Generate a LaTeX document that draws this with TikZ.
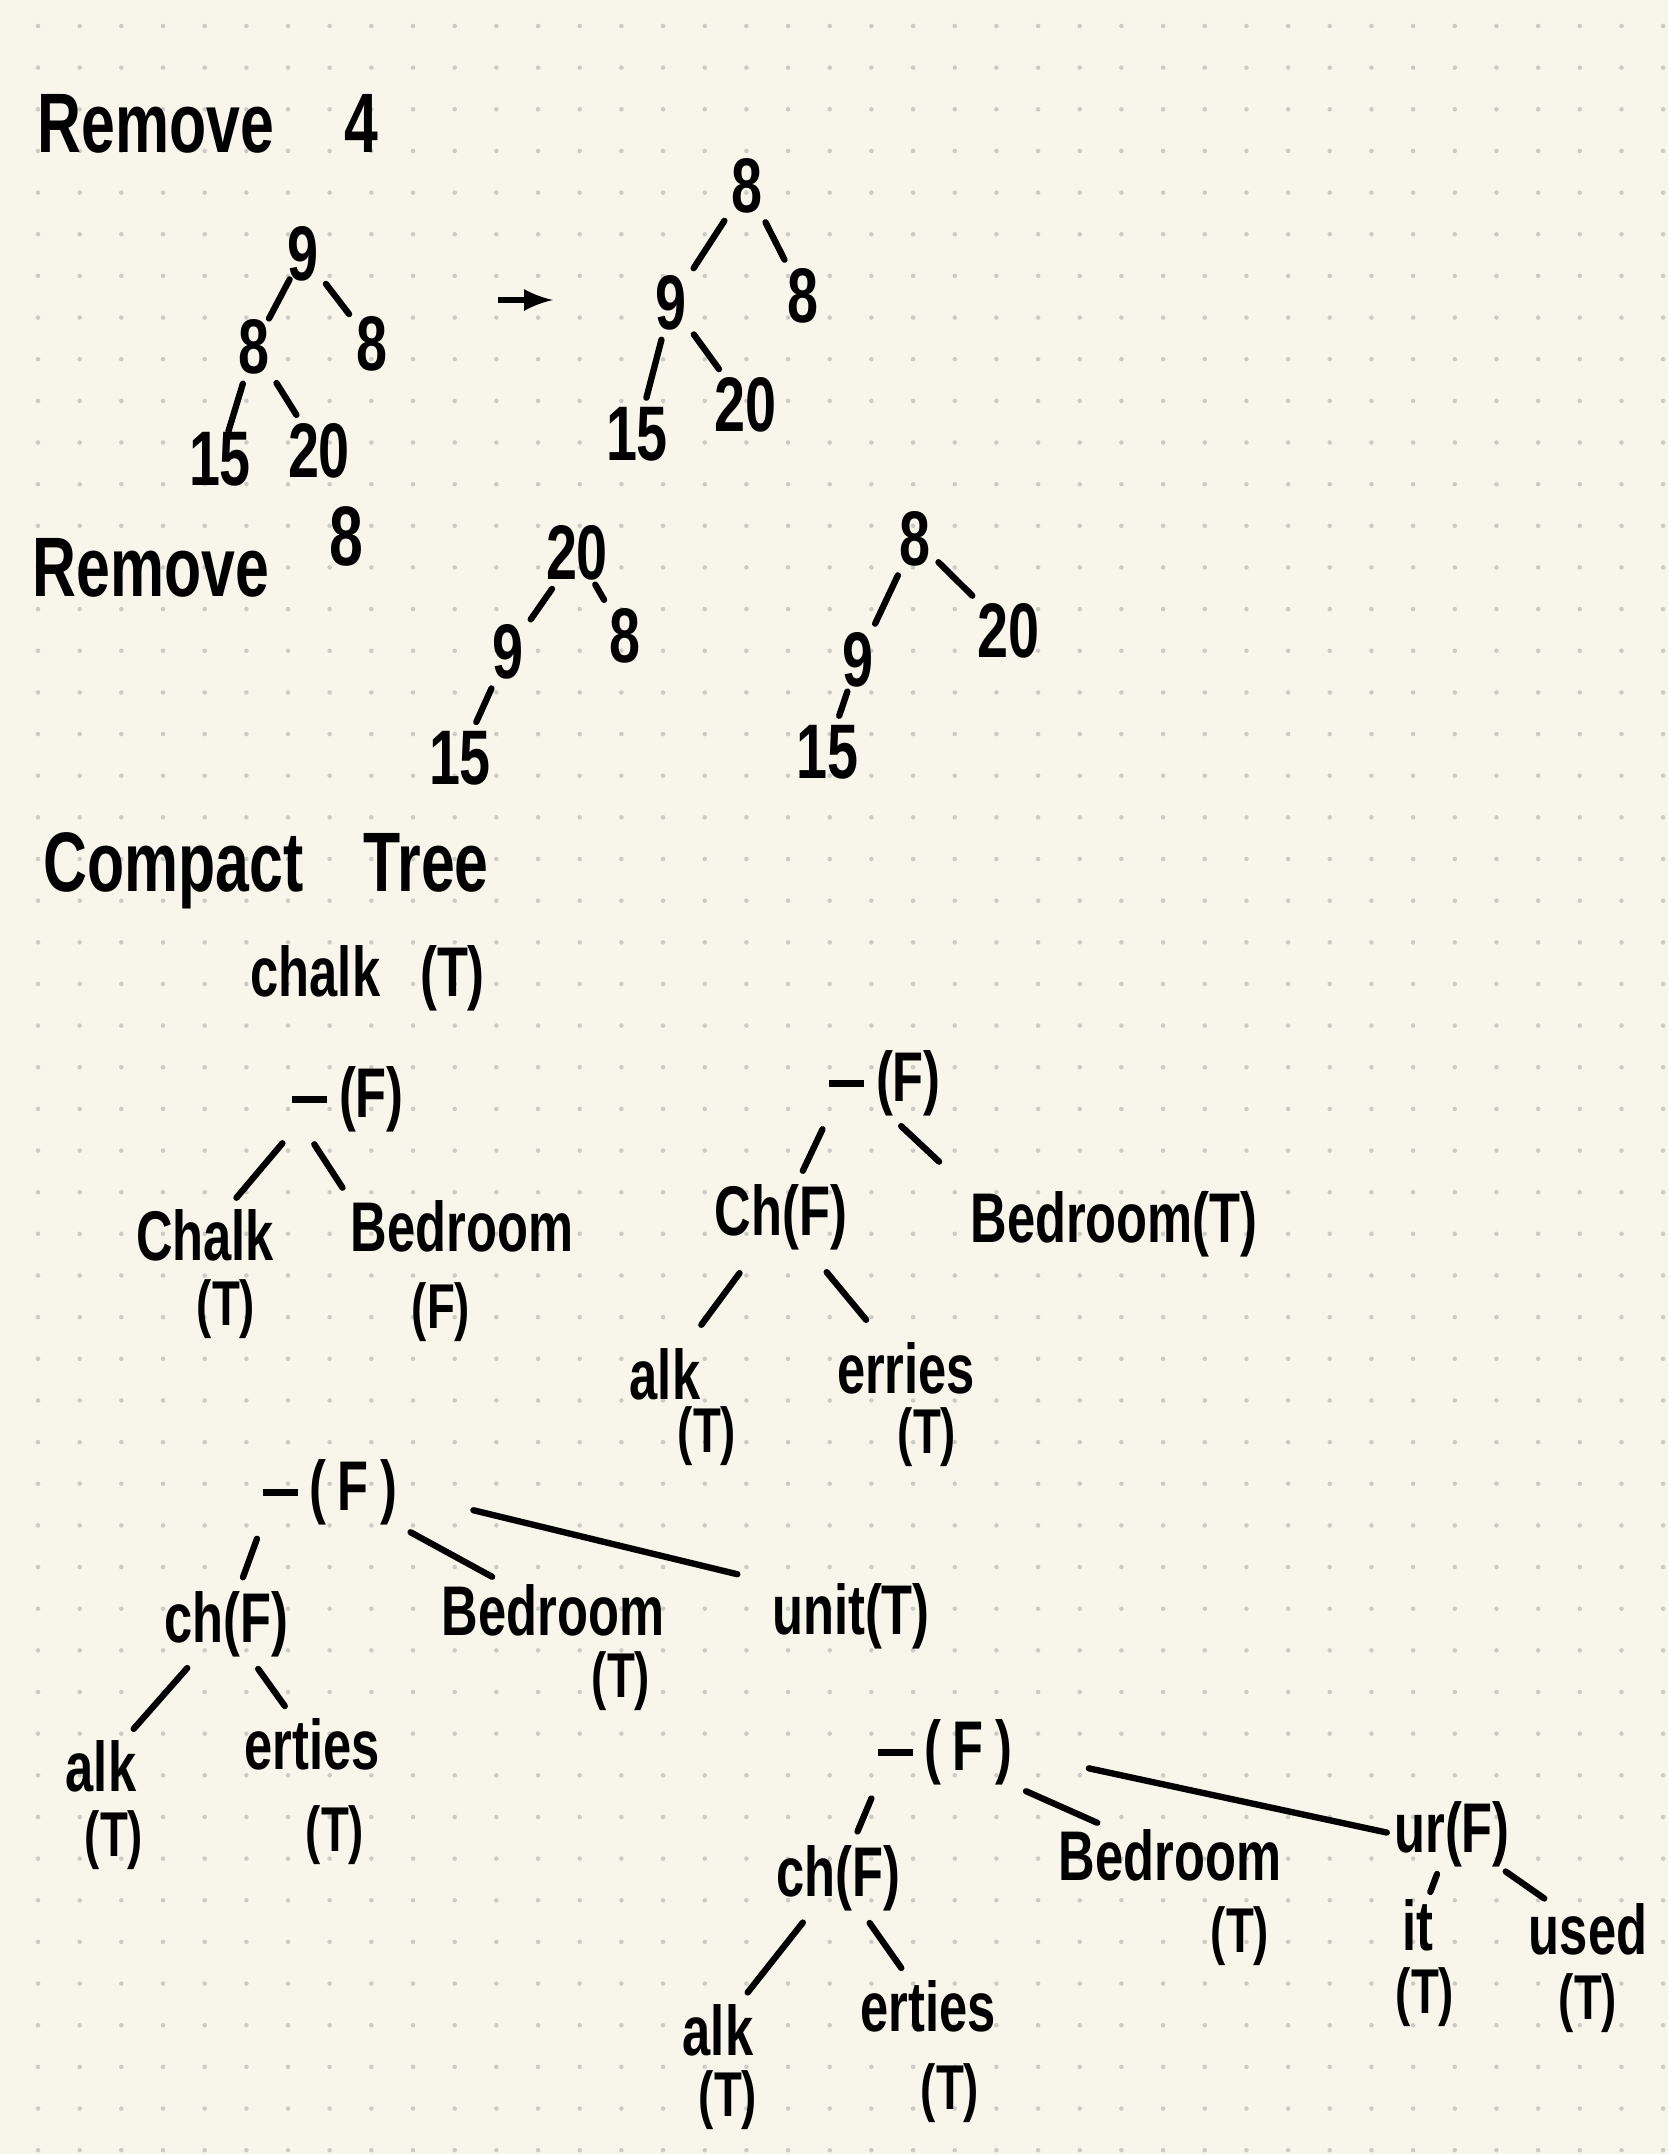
\documentclass[tikz,border=0pt]{standalone}
\usepackage{fontspec}
\newfontfamily\hand[FakeStretch=0.72]{Liberation Sans Bold}
\tikzset{>=latex}
\definecolor{paper}{RGB}{248,246,235}
\definecolor{dotgray}{RGB}{204,204,198}
\newcommand{\blank}{\rule[0.2em]{0.5em}{0.1em}}
\tikzset{
  num/.style={font=\hand\fontsize{22}{24}\selectfont, inner sep=1pt},
  lbl/.style={font=\hand\fontsize{20}{22}\selectfont, inner sep=0pt},
  flag/.style={font=\hand\fontsize{18}{20}\selectfont, inner sep=0pt},
  head/.style={font=\hand\fontsize{24}{26}\selectfont, inner sep=0pt},
  edge/.style={line width=1.8pt, line cap=round, shorten <=4pt, shorten >=4pt},
  numedge/.style={edge, shorten <=1.5pt, shorten >=1.5pt},
}

\begin{document}
\begin{tikzpicture}[x=0.01cm,y=-0.01cm]
\fill[paper] (0,0) rectangle (1668,2154);
\foreach \i in {0,...,39}
  \foreach \j in {0,...,51}
    \fill[dotgray] (38+41.67*\i,26+41.65*\j) circle (0.65pt);

% headings
\node[head, anchor=base west] (rmA) at (37,152) {Remove\hspace{0.7cm}4};
\node[head, anchor=base west] (rmB) at (32,596) {Remove\hspace{0.6cm}\raisebox{0.3cm}{8}};
\node[head, anchor=base west] (cpt) at (43,891) {Compact\hspace{0.6cm}Tree};
\node[lbl, anchor=base west] (chk) at (250,996) {chalk\hspace{0.4cm}(T)};

% remove 4
\node[num] (a9) at (303,254) {9};
\node[num] (a8l) at (254,347) {8};
\node[num] (a8r) at (372,344) {8};
\node[num] (a15) at (220,459) {15};
\node[num] (a20) at (319,451) {20};
\draw[numedge, shorten <=-2pt, shorten >=-1pt] (a9) -- (a8l);
\draw[numedge] (a9) -- (a8r);
\draw[numedge, shorten >=-1pt] (a8l) -- (a15);
\draw[numedge] (a8l) -- (a20);

\coordinate (arrS) at (498,300);
\coordinate (arrE) at (553,300);
\draw[line width=1.8pt, ->] (arrS) -- (arrE);

\node[num] (b8) at (747,186) {8};
\node[num] (b9) at (671,303) {9};
\node[num] (b8r) at (803,296) {8};
\node[num] (b15) at (637,434) {15};
\node[num] (b20) at (745,405) {20};
\draw[numedge] (b8) -- (b9);
\draw[numedge] (b8) -- (b8r);
\draw[numedge] (b9) -- (b15);
\draw[numedge] (b9) -- (b20);

% remove 8
\node[num] (c20) at (577,553) {20};
\node[num] (c9) at (508,652) {9};
\node[num] (c8) at (625,636) {8};
\node[num] (c15) at (460,758) {15};
\draw[numedge] (c20) -- (c9);
\draw[numedge, shorten <=0pt] (c20) -- (c8);
\draw[numedge] (c9) -- (c15);

\node[num] (d8) at (915,539) {8};
\node[num] (d9) at (858,660) {9};
\node[num] (d20) at (1008,631) {20};
\node[num] (d15) at (827,752) {15};
\draw[numedge] (d8) -- (d9);
\draw[numedge] (d8) -- (d20);
\draw[numedge, shorten <=0pt] (d9) -- (d15);

% compact tree 1
\node[lbl] (rA) at (348,1099) {\blank\,(F)};
\node[lbl] (chalkA) at (205,1235) {Chalk};
\node[flag] (chalkAf) at (226,1309) {(T)};
\node[lbl] (bedA) at (462,1226) {Bedroom};
\node[flag] (bedAf) at (441,1312) {(F)};
\draw[edge] (rA.south west) -- (chalkA);
\draw[edge] (rA.-141) -- (bedA.north west);

% compact tree 2
\node[lbl] (rB) at (885,1083) {\blank\,(F)};
\node[lbl] (chB) at (781,1217) {Ch(F)};
\node[lbl] (bedB) at (1114,1224) {Bedroom(T)};
\node[lbl] (alkB) at (665,1374) {alk};
\node[flag] (alkBf) at (707,1436) {(T)};
\node[lbl] (errB) at (906,1368) {erries};
\node[flag] (errBf) at (927,1437) {(T)};
\draw[edge] (rB.south west) -- (chB);
\draw[edge, shorten >=12pt] (rB.-80) -- (bedB.north west);
\draw[edge, shorten <=8pt, shorten >=8pt] (chB) -- (alkB);
\draw[edge, shorten <=8pt, shorten >=8pt] (chB) -- (errB);

% compact tree 3
\node[lbl] (rC) at (330,1492) {\blank\,(\,F\,)};
\node[lbl] (chC) at (226,1624) {ch(F)};
\node[lbl] (bedC) at (553,1610) {Bedroom};
\node[flag] (bedCf) at (621,1681) {(T)};
\node[lbl] (unitC) at (851,1616) {unit(T)};
\node[lbl] (alkC) at (101,1766) {alk};
\node[flag] (alkCf) at (114,1840) {(T)};
\node[lbl] (ertC) at (312,1744) {erties};
\node[flag] (ertCf) at (335,1835) {(T)};
\draw[edge] (rC.south west) -- (chC);
\draw[edge] (rC.south east) -- (bedC);
\draw[edge, shorten <=22pt, shorten >=10pt] (rC.east) -- (unitC.north west);
\draw[edge] (chC) -- (alkC);
\draw[edge] (chC) -- (ertC);

% compact tree 4
\node[lbl] (rD) at (945,1752) {\blank\,(\,F\,)};
\node[lbl] (chD) at (838,1878) {ch(F)};
\node[lbl] (bedD) at (1170,1855) {Bedroom};
\node[flag] (bedDf) at (1240,1936) {(T)};
\node[lbl] (urD) at (1452,1834) {ur(F)};
\node[lbl] (itD) at (1418,1925) {it};
\node[flag] (itDf) at (1425,1997) {(T)};
\node[lbl] (usedD) at (1588,1929) {used};
\node[flag] (usedDf) at (1588,2003) {(T)};
\node[lbl] (alkD) at (718,2030) {alk};
\node[flag] (alkDf) at (728,2100) {(T)};
\node[lbl] (ertD) at (928,2006) {erties};
\node[flag] (ertDf) at (950,2093) {(T)};
\draw[edge] (rD.south west) -- (chD);
\draw[edge] (rD.south east) -- (bedD);
\draw[edge, shorten <=22pt, shorten >=2pt] (rD.east) -- (urD.west);
\draw[edge] (chD) -- (alkD);
\draw[edge] (chD) -- (ertD);
\draw[edge, shorten <=2pt, shorten >=2pt] (urD) -- (itD);
\draw[edge, shorten <=2pt, shorten >=2pt] (urD) -- (usedD);
\end{tikzpicture}
\end{document}
